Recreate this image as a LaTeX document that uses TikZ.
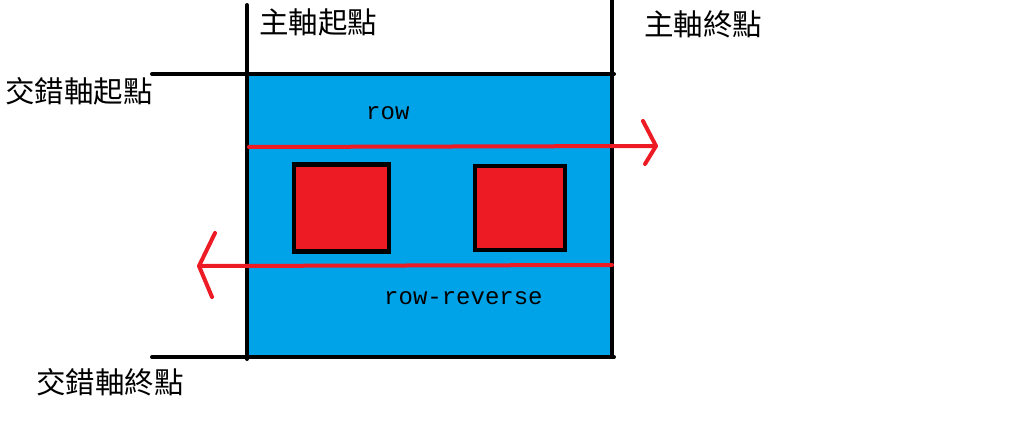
\documentclass[tikz,border=0pt]{standalone}
\usepackage{fontspec}
\newfontfamily\cjk{Noto Sans CJK TC}
\newfontfamily\monof{Liberation Mono}
\definecolor{paintblue}{HTML}{00A2E8}
\definecolor{paintred}{HTML}{ED1C24}
\tikzset{
  axisline/.style={line width=4pt, black},
  redline/.style={line width=4pt, paintred, line cap=round, line join=round},
  itembox/.style={draw=black, line width=4.5pt, fill=paintred, inner sep=0pt},
  cjklabel/.style={font=\cjk\fontsize{29.5}{32}\selectfont, inner sep=0pt, anchor=west},
  codelabel/.style={font=\monof\fontsize{24}{28}\selectfont, inner sep=0pt, anchor=west}
}
\begin{document}
\begin{tikzpicture}[x=1pt,y=-1pt]
\useasboundingbox (0,0) rectangle (1024,441);
% container
\node[fill=paintblue, inner sep=0pt, minimum width=364pt, minimum height=283pt, anchor=north west] (box) at (248,75) {};
% items
\node[itembox, minimum width=95pt, minimum height=87pt] (item1) at (341.5,208) {};
\node[itembox, minimum width=90pt, minimum height=84pt] (item2) at (520,208) {};
% axis lines
\coordinate (mainStartTop) at (247,5);
\coordinate (mainStartBot) at (247,359);
\coordinate (mainEndTop) at (612,0);
\coordinate (mainEndBot) at (612,359);
\coordinate (crossStartL) at (152,74);
\coordinate (crossStartR) at (614,74);
\coordinate (crossEndL) at (152,357);
\coordinate (crossEndR) at (614,357);
\draw[axisline, line cap=round] (mainStartTop) -- (mainStartBot);
\draw[axisline] (mainEndTop) -- (mainEndBot);
\draw[axisline, line cap=round] (crossStartL) -- (crossStartR);
\draw[axisline, line cap=round] (crossEndL) -- (crossEndR);
% row arrow
\coordinate (rowA) at (249,147);
\coordinate (rowTip) at (656,146);
\coordinate (rowW1) at (643,121);
\coordinate (rowW2) at (645,164);
\draw[redline] (rowA) -- (rowTip);
\draw[redline] (rowW1) -- (rowTip) -- (rowW2);
% row-reverse arrow
\coordinate (revA) at (612,265);
\coordinate (revTip) at (199,266);
\coordinate (revW1) at (215,233);
\coordinate (revW2) at (212,297);
\draw[redline] (revA) -- (revTip);
\draw[redline] (revW1) -- (revTip) -- (revW2);
% labels
\node[cjklabel] (mainStart) at (259,22) {主軸起點};
\node[cjklabel] (mainEnd) at (644,24) {主軸終點};
\node[cjklabel] (crossStart) at (5,91) {交錯軸起點};
\node[cjklabel] (crossEnd) at (36,382) {交錯軸終點};
\node[codelabel] (rowlbl) at (366,113) {row};
\node[codelabel] (revlbl) at (384,298) {row-reverse};
\end{tikzpicture}
\end{document}
